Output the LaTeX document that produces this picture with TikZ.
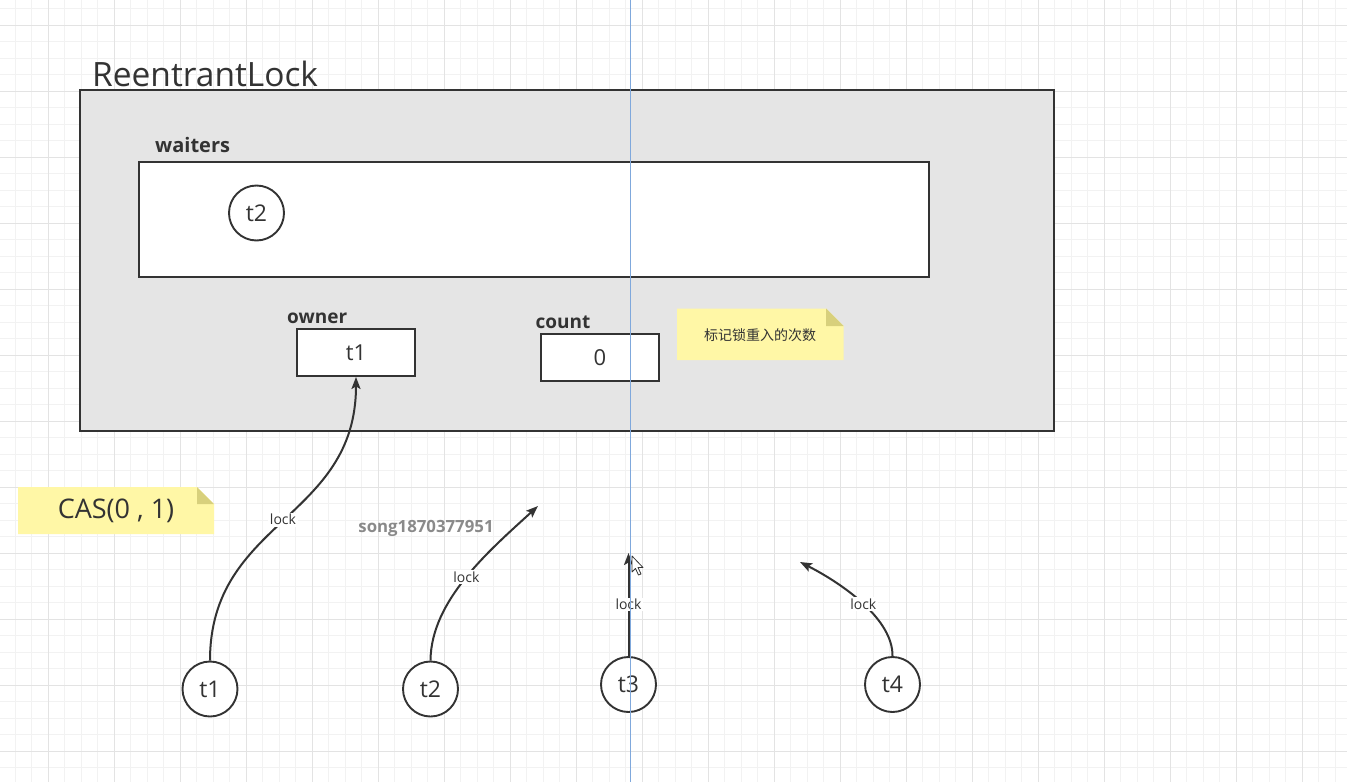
\documentclass[tikz,border=0pt]{standalone}
\usepackage{fontspec}
\setmainfont{Open Sans}
\newfontfamily\cjk{Noto Sans CJK SC}
\usetikzlibrary{arrows.meta}
\definecolor{ink}{HTML}{333333}
\definecolor{gridminor}{HTML}{F2F2F2}
\definecolor{gridmajor}{HTML}{E3E3E3}
\definecolor{panel}{HTML}{E5E5E5}
\definecolor{notefill}{HTML}{FFF7A6}
\definecolor{notefold}{HTML}{D8D07C}
\definecolor{guide}{HTML}{7FA8DC}
\definecolor{wm}{HTML}{8A8A8A}
\tikzset{
  frame/.style={draw=ink, line width=2pt},
  circ/.style={circle, draw=ink, line width=1.9pt, fill=white, minimum size=55pt, inner sep=0pt, text=ink, font=\fontsize{23}{27}\selectfont},
  valbox/.style={draw=ink, line width=1.9pt, fill=white, minimum width=118pt, minimum height=47pt, inner sep=0pt, text=ink, font=\fontsize{22}{26}\selectfont},
  fieldlbl/.style={anchor=base west, inner sep=0pt, text=ink, font=\bfseries\fontsize{19}{23}\selectfont},
  conn/.style={draw=ink, line width=2pt, -{Stealth[length=12pt,width=9pt,inset=2.5pt]}},
  locklbl/.style={fill=white, inner sep=1.5pt, text=ink, font=\fontsize{14}{16}\selectfont},
}
\begin{document}
\begin{tikzpicture}[x=1pt,y=-1pt]
\fill[white] (0,0) rectangle (1347,782);
\useasboundingbox (0,0) rectangle (1347,782);
% grid
\foreach \i in {0,...,82} {\draw[gridminor, line width=1pt] (-1.5+16.5*\i,0) -- (-1.5+16.5*\i,782);}
\foreach \i in {0,...,47} {\draw[gridminor, line width=1pt] (0,8.5+16.5*\i) -- (1347,8.5+16.5*\i);}
\foreach \i in {0,...,20} {\draw[gridmajor, line width=1pt] (48+66*\i,0) -- (48+66*\i,782);}
\foreach \i in {0,...,11} {\draw[gridmajor, line width=1pt] (0,25+66*\i) -- (1347,25+66*\i);}

% title
\node[anchor=base west, inner sep=0pt, text=ink, font=\fontsize{33.5}{40}\selectfont] (title) at (92,86) {ReentrantLock};
% outer panel
\draw[frame, fill=panel] (80,89.5) rectangle (1054,430.5);
% waiters
\node[fieldlbl, font=\bfseries\fontsize{20}{24}\selectfont] (wlbl) at (155,152) {waiters};
\draw[frame, fill=white] (138.5,161.5) rectangle (928.5,277);
\node[circ] (w2) at (256.5,213) {t2};
% owner
\node[fieldlbl] (olbl) at (287,323.5) {owner};
\node[valbox] (owner) at (356,352.5) {t1};
% count
\node[fieldlbl] (clbl) at (535.5,328.5) {count};
\node[valbox] (count) at (600,357.5) {0};
% note count
\fill[notefill] (677,308.5) -- (826,308.5) -- (843.5,326) -- (843.5,360) -- (677,360) -- cycle;
\fill[notefold] (826,308.5) -- (826,326) -- (843.5,326) -- cycle;
\node[text=ink, font=\cjk\fontsize{14}{16}\selectfont, inner sep=0pt] (note1) at (760,335) {标记锁重入的次数};
% note CAS
\fill[notefill] (18,487) -- (197,487) -- (214,504) -- (214,534) -- (18,534) -- cycle;
\fill[notefold] (197,487) -- (197,504) -- (214,504) -- cycle;
\node[text=ink, font=\fontsize{27}{32}\selectfont, inner sep=0pt] (note2) at (116,511) {CAS(0 , 1)};

% threads
\node[circ] (t1) at (210,689) {t1};
\node[circ] (t2) at (430.5,689) {t2};
\node[circ] (t3) at (628.5,684.5) {t3};
\node[circ] (t4) at (892.5,684.5) {t4};

\coordinate (e2) at (538,506);
\coordinate (e3) at (628.5,553);
\coordinate (e4) at (800,562);

\draw[conn] (t1.north) .. controls (210,520) and (356,520) .. (owner.south) node[locklbl, pos=0.5] {lock};
\draw[conn] (t2.north) .. controls (431,600) and (490,550) .. (e2) node[locklbl, pos=0.5] {lock};
\draw[conn] (t3.north) -- (e3) node[locklbl, pos=0.5] {lock};
\draw[conn] (t4.north) .. controls (893,620) and (845,585) .. (e4) node[locklbl, pos=0.5] {lock};

% watermark
\node[text=wm, font=\bfseries\fontsize{16.8}{20}\selectfont, inner sep=0pt] (wmark) at (426,528) {song1870377951};

% guide line
\draw[guide, line width=1pt] (630.5,0) -- (630.5,782);

% mouse cursor
\draw[ink, fill=white, line width=0.8pt, line join=round] (632,556) -- (632,572) -- (635.5,568.5) -- (638.5,575) -- (641,574) -- (638,567.5) -- (643,567.5) -- cycle;
\end{tikzpicture}
\end{document}
